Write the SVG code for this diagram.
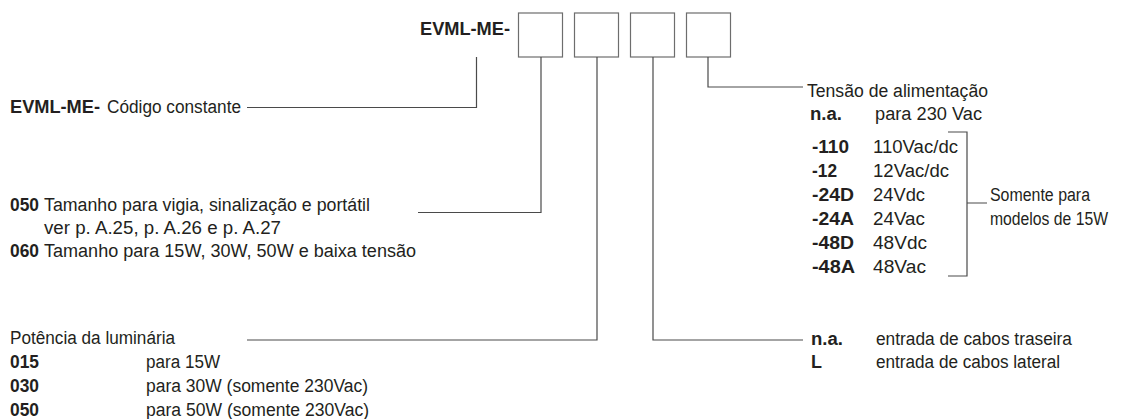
<svg xmlns="http://www.w3.org/2000/svg" width="1125" height="419" viewBox="0 0 1125 419">
<style>
text{font-family:"Liberation Sans",Arial,sans-serif;font-size:18px;fill:#231f20}
.b{font-weight:bold}
.box{fill:#fff;stroke:#6d6d6d;stroke-width:1.2}
.ln{fill:none;stroke:#4a4a4a;stroke-width:1.2}
</style>
<rect width="1125" height="419" fill="#fff"/>
<g id="code">
<text class="b" x="420" y="35" textLength="90" lengthAdjust="spacingAndGlyphs">EVML-ME-</text>
<rect id="box1" class="box" x="518.5" y="13" width="44" height="44"/>
<rect id="box2" class="box" x="574.5" y="13" width="44" height="44"/>
<rect id="box3" class="box" x="630.5" y="13" width="44" height="44"/>
<rect id="box4" class="box" x="686.5" y="13" width="44" height="44"/>
</g>
<g id="connectors">
<path class="ln" d="M476.5 57V107.5H247"/>
<path class="ln" d="M541 57V212.5H418"/>
<path class="ln" d="M597 57V340H247"/>
<path class="ln" d="M653 57V340H803"/>
<path class="ln" d="M708 57V87H803"/>
<path class="ln" d="M948 132H967V276H948M967 203H987"/>
</g>
<g id="n-constant">
<text class="b" x="10" y="113" textLength="90" lengthAdjust="spacingAndGlyphs">EVML-ME-</text>
<text x="107" y="113" textLength="134" lengthAdjust="spacingAndGlyphs">Código constante</text>
</g>
<g id="n-size">
<text class="b" x="10" y="211" textLength="29" lengthAdjust="spacingAndGlyphs">050</text>
<text x="44" y="211" textLength="326" lengthAdjust="spacingAndGlyphs">Tamanho para vigia, sinalização e portátil</text>
<text x="44" y="234" textLength="237" lengthAdjust="spacingAndGlyphs">ver p. A.25, p. A.26 e p. A.27</text>
<text class="b" x="10" y="257" textLength="29" lengthAdjust="spacingAndGlyphs">060</text>
<text x="44" y="257" textLength="372" lengthAdjust="spacingAndGlyphs">Tamanho para 15W, 30W, 50W e baixa tensão</text>
</g>
<g id="n-power">
<text x="10" y="344" textLength="165" lengthAdjust="spacingAndGlyphs">Potência da luminária</text>
<text class="b" x="10" y="368" textLength="29" lengthAdjust="spacingAndGlyphs">015</text>
<text x="146" y="368" textLength="74" lengthAdjust="spacingAndGlyphs">para 15W</text>
<text class="b" x="10" y="392" textLength="29" lengthAdjust="spacingAndGlyphs">030</text>
<text x="146" y="392" textLength="222" lengthAdjust="spacingAndGlyphs">para 30W (somente 230Vac)</text>
<text class="b" x="10" y="416" textLength="29" lengthAdjust="spacingAndGlyphs">050</text>
<text x="146" y="416" textLength="223" lengthAdjust="spacingAndGlyphs">para 50W (somente 230Vac)</text>
</g>
<g id="n-cable">
<text class="b" x="811" y="345" textLength="32" lengthAdjust="spacingAndGlyphs">n.a.</text>
<text x="876" y="345" textLength="196" lengthAdjust="spacingAndGlyphs">entrada de cabos traseira</text>
<text class="b" x="811" y="368">L</text>
<text x="876" y="368" textLength="184" lengthAdjust="spacingAndGlyphs">entrada de cabos lateral</text>
</g>
<g id="n-voltage">
<text x="807" y="97" textLength="181" lengthAdjust="spacingAndGlyphs">Tensão de alimentação</text>
<text class="b" x="810" y="120" textLength="32" lengthAdjust="spacingAndGlyphs">n.a.</text>
<text x="875" y="120" textLength="107" lengthAdjust="spacingAndGlyphs">para 230 Vac</text>
<text class="b" x="812" y="153" textLength="37" lengthAdjust="spacingAndGlyphs">-110</text>
<text x="873" y="153" textLength="85" lengthAdjust="spacingAndGlyphs">110Vac/dc</text>
<text class="b" x="812" y="177" textLength="25" lengthAdjust="spacingAndGlyphs">-12</text>
<text x="873" y="177" textLength="76" lengthAdjust="spacingAndGlyphs">12Vac/dc</text>
<text class="b" x="812" y="201" textLength="42" lengthAdjust="spacingAndGlyphs">-24D</text>
<text x="873" y="201" textLength="52" lengthAdjust="spacingAndGlyphs">24Vdc</text>
<text class="b" x="812" y="225" textLength="42" lengthAdjust="spacingAndGlyphs">-24A</text>
<text x="873" y="225" textLength="52" lengthAdjust="spacingAndGlyphs">24Vac</text>
<text class="b" x="812" y="249" textLength="42" lengthAdjust="spacingAndGlyphs">-48D</text>
<text x="873" y="249" textLength="54" lengthAdjust="spacingAndGlyphs">48Vdc</text>
<text class="b" x="812" y="273" textLength="43" lengthAdjust="spacingAndGlyphs">-48A</text>
<text x="873" y="273" textLength="53" lengthAdjust="spacingAndGlyphs">48Vac</text>
</g>
<g id="n-lowvolt">
<text x="990" y="201" textLength="100" lengthAdjust="spacingAndGlyphs">Somente para</text>
<text x="990" y="225" textLength="118" lengthAdjust="spacingAndGlyphs">modelos de 15W</text>
</g>
</svg>
